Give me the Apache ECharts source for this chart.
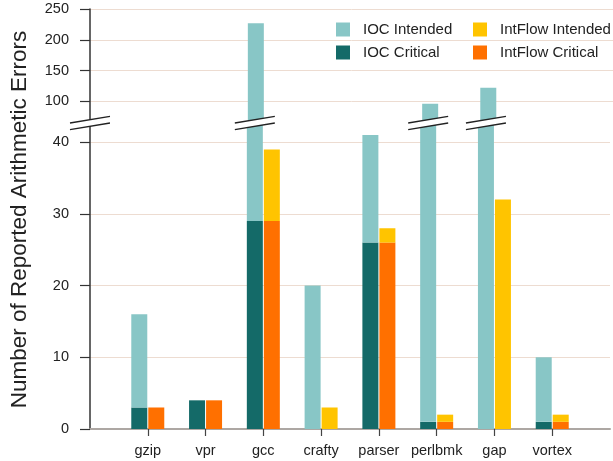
<!DOCTYPE html>
<html>
<head>
<meta charset="utf-8">
<script src="https://cdn.jsdelivr.net/npm/echarts@6/dist/echarts.min.js"></script>
<style>
html,body{margin:0;padding:0;background:#fff;}
#chart{width:613px;height:461px;}
</style>
</head>
<body>
<div id="chart"></div>
<script>
// ---- data ----
const categories = ['gzip', 'vpr', 'gcc', 'crafty', 'parser', 'perlbmk', 'gap', 'vortex'];
// stacked segment lengths
const iocCritical      = [3, 4, 29, 0, 26, 1, 0, 1];
const iocIntended      = [13, 0, 198, 20, 15, 95, 122, 9];
const intflowCritical  = [3, 4, 29, 0, 26, 1, 0, 1];
const intflowIntended  = [0, 0, 10, 3, 2, 1, 32, 1];
const lowerTicks = [0, 10, 20, 30, 40];
const upperTicks = [100, 150, 200, 250];

const colors = {
  iocIntended: '#88C6C6',
  iocCritical: '#146A68',
  intIntended: '#FFC400',
  intCritical: '#FF7000'
};
const FONT = 'Liberation Sans, Arial, Helvetica, sans-serif';

const lowerMax = 42.68;
const upperMin = 64.7;

// padded category axis: blank slot at start & end
const xCats = [''].concat(categories, ['']);
const pad = arr => [null].concat(arr, [null]);

const BW = 16;

function makeSeries(gridIdx) {
  const common = { type: 'bar', xAxisIndex: gridIdx, yAxisIndex: gridIdx, barWidth: BW, barGap: '6.25%', clip: true, silent: true };
  return [
    Object.assign({ name: 'IOC Critical', stack: 'ioc' + gridIdx, data: pad(iocCritical), itemStyle: { color: colors.iocCritical } }, common),
    Object.assign({ name: 'IOC Intended', stack: 'ioc' + gridIdx, data: pad(iocIntended), itemStyle: { color: colors.iocIntended } }, common),
    Object.assign({ name: 'IntFlow Critical', stack: 'int' + gridIdx, data: pad(intflowCritical), itemStyle: { color: colors.intCritical } }, common),
    Object.assign({ name: 'IntFlow Intended', stack: 'int' + gridIdx, data: pad(intflowIntended), itemStyle: { color: colors.intIntended } }, common)
  ];
}

const gridLine = { show: true, lineStyle: { color: '#EDDCD1', width: 1 } };

const chart = echarts.init(document.getElementById('chart'), null, { renderer: 'canvas' });
const option = {
  animation: false,
  backgroundColor: '#fff',
  grid: [
    { left: 90, right: -3, top: 9, height: 114 },
    { left: 90, right: -3, top: 123, bottom: 32 }
  ],
  xAxis: [
    { type: 'category', gridIndex: 0, data: xCats, boundaryGap: false, show: false },
    { type: 'category', gridIndex: 1, data: xCats, boundaryGap: false,
      axisLine: { show: true, lineStyle: { color: '#ADA7A3', width: 2 } },
      axisTick: { show: true, length: 7, lineStyle: { color: '#444', width: 1.2 },
                  interval: (i) => i >= 1 && i <= categories.length },
      axisLabel: { show: true, interval: 0, margin: 14, fontSize: 14.5, color: '#222', fontFamily: FONT },
      splitLine: { show: false }
    }
  ],
  yAxis: [
    { type: 'value', gridIndex: 0, min: upperMin, max: 250,
      axisLine: { show: true, lineStyle: { color: '#333', width: 1.5 } },
      axisTick: { show: true, length: 10, customValues: upperTicks, lineStyle: { color: '#333', width: 1.2 } },
      axisLabel: { customValues: upperTicks, margin: 21, fontSize: 14.5, color: '#222', fontFamily: FONT },
      splitLine: gridLine
    },
    { type: 'value', gridIndex: 1, min: 0, max: lowerMax,
      axisLine: { show: true, lineStyle: { color: '#333', width: 1.5 } },
      axisTick: { show: true, length: 10, customValues: lowerTicks, lineStyle: { color: '#333', width: 1.2 } },
      axisLabel: { customValues: lowerTicks, margin: 21, fontSize: 14.5, color: '#222', fontFamily: FONT },
      splitLine: gridLine
    }
  ],
  legend: [
    { data: ['IOC Intended', 'IOC Critical'], orient: 'vertical', left: 336, top: 22, padding: 0,
      itemWidth: 14, itemHeight: 14, itemGap: 8, icon: 'rect',
      textStyle: { fontSize: 15, color: '#222', fontFamily: FONT, padding: [0, 0, 0, 8] } },
    { data: ['IntFlow Intended', 'IntFlow Critical'], orient: 'vertical', left: 473, top: 22, padding: 0,
      itemWidth: 14, itemHeight: 14, itemGap: 8, icon: 'rect',
      textStyle: { fontSize: 15, color: '#222', fontFamily: FONT, padding: [0, 0, 0, 8] } }
  ],
  series: makeSeries(0).concat(makeSeries(1))
};
chart.setOption(option);

// ---- axis break decorations (computed from the axes) ----
function breakMark(cx, cy) {
  const hw = 20, dy = 3.3, sl = 3.3;
  return [
    { type: 'polygon', z: 100, silent: true,
      shape: { points: [[cx - hw, cy + sl - dy], [cx + hw, cy - sl - dy], [cx + hw, cy - sl + dy], [cx - hw, cy + sl + dy]] },
      style: { fill: '#fff' } },
    { type: 'line', z: 101, silent: true, shape: { x1: cx - hw, y1: cy + sl - dy, x2: cx + hw, y2: cy - sl - dy },
      style: { stroke: '#222', lineWidth: 1.3 } },
    { type: 'line', z: 101, silent: true, shape: { x1: cx - hw, y1: cy + sl + dy, x2: cx + hw, y2: cy - sl + dy },
      style: { stroke: '#222', lineWidth: 1.3 } }
  ];
}
const breakY = chart.convertToPixel({ yAxisIndex: 1 }, lowerMax);
const axisX = chart.convertToPixel({ xAxisIndex: 1 }, 0);
let elems = breakMark(axisX, breakY);
categories.forEach((c, i) => {
  const total = iocCritical[i] + iocIntended[i];
  if (total > lowerMax) {
    const tx = chart.convertToPixel({ xAxisIndex: 1 }, i + 1);
    elems = elems.concat(breakMark(tx - (BW + 1) / 2, breakY));
  }
});
// y-axis title
elems.push({
  type: 'text', z: 50, silent: true,
  x: 20, y: 219.5, rotation: Math.PI / 2,
  style: { text: 'Number of Reported Arithmetic Errors', fontSize: 22.5, fontFamily: FONT, fill: '#222',
           align: 'center', verticalAlign: 'middle' }
});
chart.setOption({ graphic: { elements: elems } });
</script>
</body>
</html>
